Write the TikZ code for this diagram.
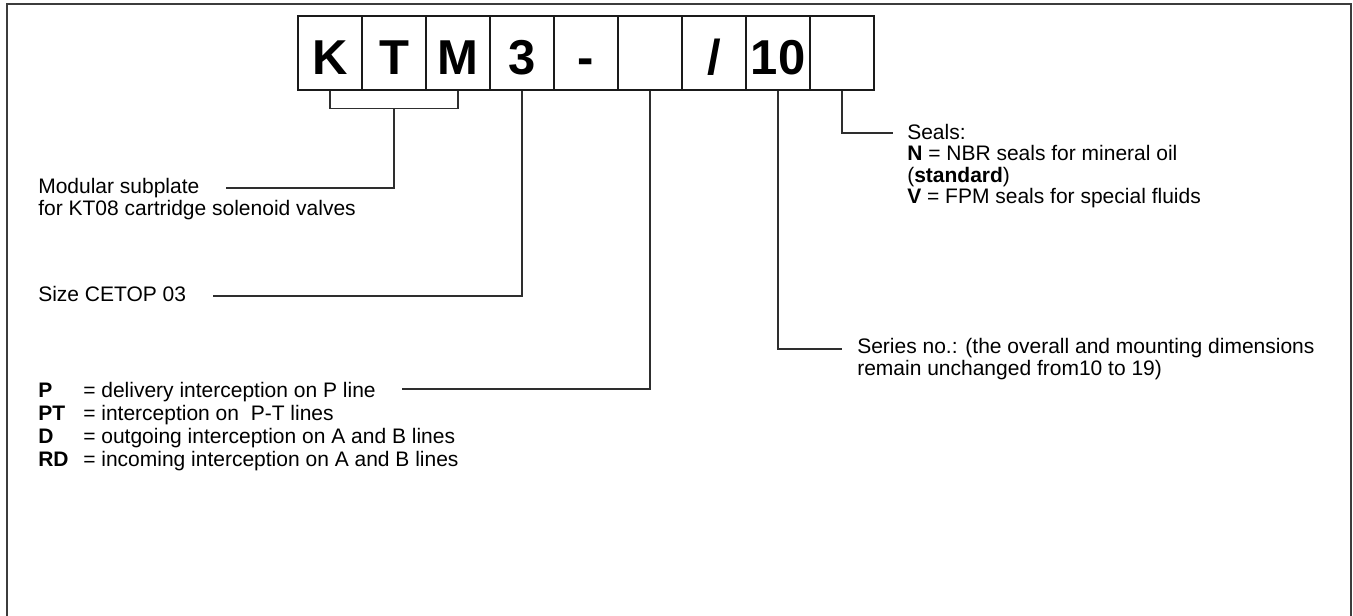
\documentclass[tikz,border=0pt]{standalone}
\usepackage{fontspec}
\setmainfont{Liberation Sans}
\usetikzlibrary{positioning}
\definecolor{ink}{HTML}{1A1A1A}
\definecolor{leadgray}{HTML}{2E2E2E}
\definecolor{framegray}{HTML}{3C3C3C}
\newcommand\codekey[1]{\makebox[33.75pt][l]{\bfseries #1}}
\tikzset{
  codebox/.style={draw=ink,line width=1pt,
                  minimum width=48pt,minimum height=55.5pt,inner sep=0pt,
                  text height=33pt,text depth=0pt,
                  font=\fontsize{36.75}{40}\selectfont\bfseries},
  lead/.style={draw=leadgray,line width=0.8pt},
  note/.style={anchor=north west,inner sep=0pt,align=left,
               font=\fontsize{15.75}{16.5}\selectfont}
}

\begin{document}
\begin{tikzpicture}[x=0.75pt,y=-0.75pt]
  \useasboundingbox (0,0) rectangle (1353,616);
  \draw[framegray,line width=1.5pt] (7,620) -- (7,4) -- (1351,4) -- (1351,620);
  % the code boxes
  \foreach \lbl [count=\i] in {K,T,M,3,-,{},{/},10,{}} {
    \node[codebox] (box\i) at ({266+64*\i},53) {\lbl};
  }
  % notes
  \node[note] (modular) at (38,178) {Modular subplate\\for KT08 cartridge solenoid valves};
  \node[note] (size) at (38,286) {Size CETOP 03};
  \node[note,font=\fontsize{15.75}{17.25}\selectfont] (variant) at (38,382)
    {\codekey{P}= delivery interception on P line\\
     \codekey{PT}= interception on \ P-T lines\\
     \codekey{D}= outgoing interception on A and B lines\\
     \codekey{RD}= incoming interception on A and B lines};
  \node[note,font=\fontsize{15.75}{16.1}\selectfont] (seals) at (907,124)
    {Seals:\\\textbf{N} = NBR seals for mineral oil\\(\textbf{standard})\\\textbf{V} = FPM seals for special fluids};
  \node[note] (series) at (857,338)
    {Series no.: (the overall and mounting dimensions\\remain unchanged from10 to 19)};
  % free ends of the leaders
  \coordinate (modend) at (226,188);
  \coordinate (sizeend) at (213,296);
  \coordinate (pend) at (402,389);
  \coordinate (seriesend) at (842,349);
  \coordinate (sealsend) at (893,133);
  % leaders
  \draw[lead] (box1.south) -- ++(0,18) -| (box3.south);
  \draw[lead] (box2.south) ++(0,18) |- (modend);
  \draw[lead] (box4.south) |- (sizeend);
  \draw[lead] (box6.south) |- (pend);
  \draw[lead] (box8.south) |- (seriesend);
  \draw[lead] (box9.south) |- (sealsend);
\end{tikzpicture}
\end{document}
